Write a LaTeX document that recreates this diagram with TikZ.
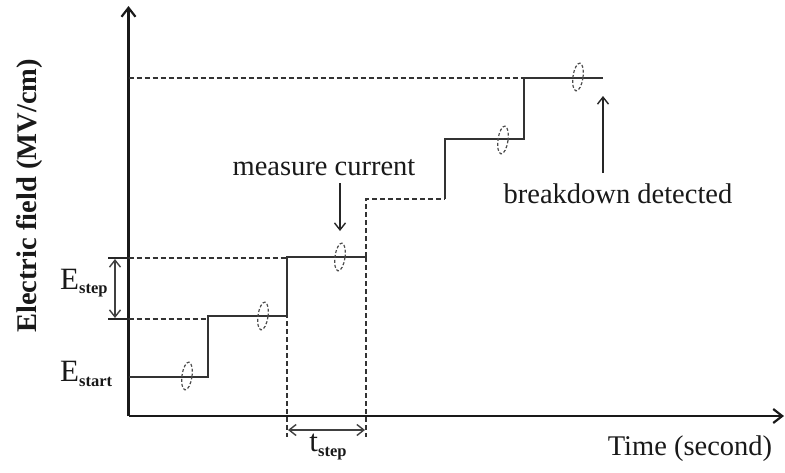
\documentclass[tikz,border=0pt]{standalone}
\usepackage{fontspec}
\setmainfont{Liberation Serif}
\usetikzlibrary{arrows.meta}
\begin{document}
\begin{tikzpicture}[x=1pt,y=-1pt,
  axis/.style={line width=2.2pt, draw=black!90},
  stepline/.style={line width=1.6pt, draw=black!80},
  guide/.style={line width=1.3pt, draw=black!80, dash pattern=on 5pt off 3pt},
  probe/.style={line width=1.2pt, draw=black!70, dash pattern=on 3pt off 2pt},
  lbl/.style={font=\fontsize{28.5}{30}\selectfont, inner sep=0pt, text=black!90},
  sublbl/.style={inner sep=0pt, text=black!90},
  axistip/.style={-{Straight Barb[length=9pt,width=14pt,line width=2.2pt]}},
  vtip/.style={line width=1.4pt, draw=black!85, -{Straight Barb[length=7pt,width=11pt]}},
  dtip/.style={line width=1.4pt, draw=black!75, {Straight Barb[length=7pt,width=11pt]}-{Straight Barb[length=7pt,width=11pt]}}]
\useasboundingbox (0,0) rectangle (785,472);
% axes
\coordinate (O) at (128.5,416);
\coordinate (Ytop) at (128.5,6);
\coordinate (Xend) at (784,416);
\draw[axis, axistip] (O) -- (Ytop);
\draw[axis, axistip] (O) -- (Xend);
% step corners
\coordinate (s1a) at (128.5,377);
\coordinate (s1b) at (208,377);
\coordinate (s2a) at (208,316);
\coordinate (s2b) at (287,316);
\coordinate (s3a) at (287,257);
\coordinate (s3b) at (366,257);
\coordinate (s4a) at (366,199);
\coordinate (s4b) at (445,199);
\coordinate (s5a) at (445,139);
\coordinate (s5b) at (524,139);
\coordinate (s6a) at (524,78);
\coordinate (s6b) at (603,78);
% solid staircase
\draw[stepline] (s1a) -- (s1b) -- (s2a) -- (s2b) -- (s3a) -- (s3b);
\draw[stepline] (s4b) -- (s5a) -- (s5b) -- (s6a) -- (s6b);
% skipped steps (dashed)
\draw[guide] (s3b) -- (s4a) -- (s4b);
% guide lines
\coordinate (gTopL) at (128.5,78);
\coordinate (gUpL) at (128.5,258);
\coordinate (gUpR) at (287,258);
\coordinate (gLoL) at (128.5,319);
\coordinate (gLoR) at (208,319);
\coordinate (v1b) at (287,437);
\coordinate (v2b) at (366,437);
\draw[guide] (gTopL) -- (s6a);
\draw[guide] (gUpL) -- (gUpR);
\draw[guide] (gLoL) -- (gLoR);
\draw[guide] (s3a) -- (v1b);
\draw[guide] (s3b) -- (v2b);
% E_step ticks and arrow
\coordinate (tU) at (108,258);
\coordinate (tL) at (108,319);
\draw[line width=1.4pt, draw=black!85] (tU) -- (gUpL);
\draw[line width=1.4pt, draw=black!85] (tL) -- (gLoL);
\coordinate (eU) at (115,259);
\coordinate (eL) at (115,318);
\draw[dtip] (eU) -- (eL);
% t_step arrow
\coordinate (tA) at (288,430);
\coordinate (tB) at (365,430);
\draw[dtip] (tA) -- (tB);
% measurement ellipses
\foreach \n/\px/\py in {p1/187/376, p2/263/316, p3/340/257, p4/503/140, p5/578/77}{
  \draw[probe, rotate around={-8:(\px,\py)}] (\px,\py) ellipse [x radius=5pt, y radius=14pt];
}
% labels
\node[lbl] (meas) at (324,168) {measure current};
\coordinate (mA) at (340,183);
\coordinate (mB) at (340,231);
\draw[vtip] (mA) -- (mB);
\node[lbl] (brk) at (618,194) {breakdown detected};
\coordinate (bA) at (603,173);
\coordinate (bB) at (603,96);
\draw[vtip] (bA) -- (bB);
\node[lbl] (time) at (690,449) {Time (second)};
\node[lbl, font=\fontsize{28.5}{30}\selectfont\bfseries, rotate=90] (ylab) at (29,196) {Electric field (MV/cm)};
\node[sublbl, anchor=west] (estep) at (60,283) {\fontsize{31}{31}\selectfont E\raisebox{-0.3ex}{\fontsize{16.5}{16.5}\selectfont\bfseries step}};
\node[sublbl, anchor=west] (estart) at (60,374) {\fontsize{31}{31}\selectfont E\raisebox{-0.3ex}{\fontsize{16.5}{16.5}\selectfont\bfseries start}};
\node[sublbl] (tstep) at (328,447) {\fontsize{31}{31}\selectfont t\raisebox{-0.3ex}{\fontsize{16.5}{16.5}\selectfont\bfseries step}};
\end{tikzpicture}
\end{document}
